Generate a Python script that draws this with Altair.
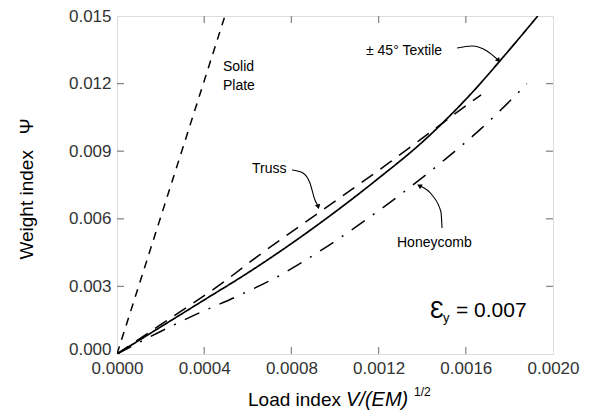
import altair as alt
import pandas as pd

# ---- data ----
solid_x = [0.0, 0.000495]
solid_y = [0.0, 0.015]

textile_x = [0.0, 0.0002, 0.0004, 0.0006, 0.0008, 0.0010, 0.0012, 0.0014, 0.0016, 0.0018, 0.00193]
textile_y = [0.0, 0.0012, 0.0024, 0.0036, 0.0049, 0.0063, 0.0078, 0.0094, 0.0113, 0.0135, 0.0150]

truss_x = [0.0, 0.0002, 0.00049, 0.00064, 0.00093, 0.00125, 0.00139, 0.00157, 0.00167]
truss_y = [0.0, 0.0013, 0.0032, 0.0043, 0.0063, 0.0085, 0.0095, 0.0108, 0.0115]

honey_x = [0.0, 0.0002, 0.00035, 0.00056, 0.00073, 0.00092, 0.00122, 0.0015, 0.00167, 0.00182, 0.00188]
honey_y = [0.0, 0.0010, 0.0017, 0.0026, 0.0034, 0.0045, 0.0065, 0.0086, 0.0100, 0.0114, 0.0120]

x_ticks = [0.0, 0.0004, 0.0008, 0.0012, 0.0016, 0.0020]
y_ticks = [0.0, 0.003, 0.006, 0.009, 0.012, 0.015]

# annotation leader curves (data units)
arrow_textile_x = [0.00156, 0.001628, 0.001697, 0.001748]
arrow_textile_y = [0.01358, 0.01367, 0.01345, 0.01305]
arrow_truss_x = [0.000803, 0.000853, 0.000885, 0.000908, 0.000922]
arrow_truss_y = [0.008166, 0.008033, 0.007589, 0.006834, 0.006568]
arrow_honey_x = [0.001491, 0.001486, 0.001445, 0.00139]
arrow_honey_y = [0.005592, 0.006302, 0.007056, 0.007456]

W, H = 436, 338
FONT = "Liberation Sans"
AX = "#8a8a8a"
NB = "\u00a0"

xs = alt.Scale(domain=[0, 0.002], nice=False, zero=False)
ys = alt.Scale(domain=[0, 0.015], nice=False, zero=False)


def curve(xv, yv, dash, width=1.5):
    df = pd.DataFrame({"x": xv, "y": yv, "i": list(range(len(xv)))})
    m = alt.Chart(df).mark_line(color="black", strokeWidth=width, strokeDash=dash,
                                interpolate="monotone", clip=True)
    return m.encode(x=alt.X("x:Q", scale=xs), y=alt.Y("y:Q", scale=ys), order="i:Q")


base_axes = alt.Chart(pd.DataFrame({"x": [0.0], "y": [0.0]})).mark_point(opacity=0).encode(
    x=alt.X("x:Q", scale=xs, axis=alt.Axis(values=x_ticks, format=".4f", ticks=False,
                                           labelPadding=6, labelFontSize=17, labelFont=FONT,
                                           labelColor="#333", domain=False, grid=False,
                                           labelFlush=False, title=None)),
    y=alt.Y("y:Q", scale=ys, axis=alt.Axis(values=y_ticks, format=".3f", ticks=False,
                                           labelPadding=6, labelFontSize=17, labelFont=FONT,
                                           labelColor="#333", domain=False, grid=False,
                                           labelFlush=False, title=None,
                                           labelOffset={"condition": {"test": "datum.value == 0",
                                                                      "value": -5},
                                                        "value": 0})),
)

xt = pd.DataFrame({"v": x_ticks[1:-1]})
yt = pd.DataFrame({"v": y_ticks[1:-1]})
TL = 7
tick_layers = [
    alt.Chart(yt).mark_rule(color=AX, strokeWidth=1.3).encode(
        y=alt.Y("v:Q", scale=ys), x=alt.value(0), x2=alt.value(TL)),
    alt.Chart(yt).mark_rule(color=AX, strokeWidth=1.3).encode(
        y=alt.Y("v:Q", scale=ys), x=alt.value(W - TL), x2=alt.value(W)),
    alt.Chart(xt).mark_rule(color=AX, strokeWidth=1.3).encode(
        x=alt.X("v:Q", scale=xs), y=alt.value(H - TL), y2=alt.value(H)),
    alt.Chart(xt).mark_rule(color=AX, strokeWidth=1.3).encode(
        x=alt.X("v:Q", scale=xs), y=alt.value(0), y2=alt.value(TL)),
]

lines = [
    curve(solid_x, solid_y, [8, 7]),
    curve(textile_x, textile_y, [1, 0], width=1.7),
    curve(truss_x, truss_y, [14, 9]),
    curve(honey_x, honey_y, [16, 10, 2, 10]),
]


def leader(xv, yv, angle):
    df = pd.DataFrame({"x": xv, "y": yv, "i": list(range(len(xv)))})
    ln = alt.Chart(df).mark_line(color="black", strokeWidth=1.1, interpolate="monotone").encode(
        x=alt.X("x:Q", scale=xs), y=alt.Y("y:Q", scale=ys), order="i:Q")
    tip = alt.Chart(df.tail(1)).mark_point(shape="triangle", filled=True, color="black",
                                           size=30, angle=angle, opacity=1).encode(
        x=alt.X("x:Q", scale=xs), y=alt.Y("y:Q", scale=ys))
    return [ln, tip]


leaders = (leader(arrow_textile_x, arrow_textile_y, 140)
           + leader(arrow_truss_x, arrow_truss_y, 165)
           + leader(arrow_honey_x, arrow_honey_y, 300))


def label(text, x, y, size=14, align="left", style="normal", angle=0, font=FONT):
    kw = dict(text=text, font=font, fontSize=size, align=align, baseline="middle",
              color="black", fontStyle=style)
    if angle:
        kw["angle"] = angle
    return alt.Chart(pd.DataFrame({"a": [0]})).mark_text(**kw).encode(
        x=alt.value(x), y=alt.value(y))


texts = [
    label("Solid", 106, 51),
    label("Plate", 106, 70),
    label("± 45° Textile", 249, 35),
    label("Truss", 135, 153),
    label("Honeycomb", 280, 227),
    label("Ɛ", 313, 295, size=23),
    label("y", 326, 302, size=13),
    label("= 0.007", 339, 295, size=21),
    label("Load index", 224, 384, size=19, align="right"),
    label("V/(EM)", 229, 384, size=20, style="italic"),
    label("1/2", 297, 376, size=12),
    label("Weight index" + NB * 3 + "Ψ", -90, 173, size=19, align="center", angle=270),
]

chart = alt.layer(base_axes, *tick_layers, *lines, *leaders, *texts).properties(
    width=W, height=H,
    autosize=alt.AutoSizeParams(type="none"),
    padding={"left": 117, "top": 16, "right": 38, "bottom": 60},
).configure_view(stroke=AX, strokeWidth=1.5).configure(background="white")

chart.save("out.html", embed_options={"renderer": "svg", "actions": False})
